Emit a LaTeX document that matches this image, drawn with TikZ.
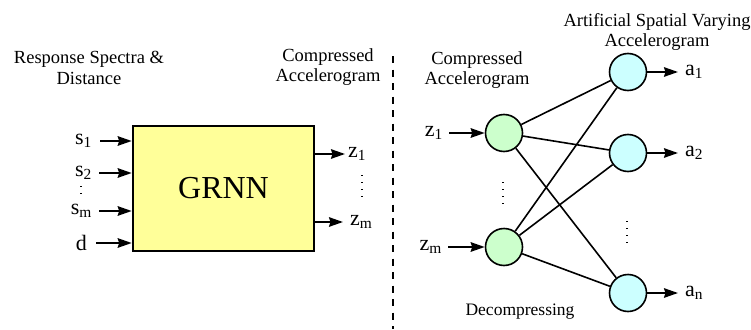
\documentclass[tikz,border=0pt]{standalone}
\usepackage{fontspec}
\setmainfont{Liberation Serif}
\usepackage{tikz}
\usetikzlibrary{arrows.meta}

\definecolor{boxyellow}{RGB}{255,255,153}
\definecolor{hidgreen}{RGB}{204,255,204}
\definecolor{outblue}{RGB}{204,255,255}

\begin{document}
\begin{tikzpicture}[x=1pt,y=-1pt,>={Stealth[length=14pt,width=9.5pt,inset=1.5pt]},
  big node/.style={draw,line width=2.6pt,fill=boxyellow,minimum width=181pt,
    minimum height=125pt,inner sep=0pt,font=\fontsize{32}{36}\selectfont},
  hid node/.style={circle,draw,line width=1.6pt,fill=hidgreen,minimum size=37pt,inner sep=0pt},
  out node/.style={circle,draw,line width=1.6pt,fill=outblue,minimum size=37pt,inner sep=0pt},
  var/.style={font=\fontsize{22}{24}\selectfont,inner sep=1pt},
  title/.style={align=center,font=\fontsize{18.5}{20.5}\selectfont},
  sig/.style={->,line width=2pt},
  dotline/.style={line width=1.1pt,dash pattern=on 1.1pt off 6pt}]

  \useasboundingbox (0,0) rectangle (751,329);

  % compression part
  \node[title] (spec) at (89,68) {Response Spectra \&\\Distance};
  \node[title] (comp) at (328,67) {Compressed\\Accelerogram};
  \node[big node] (grnn) at (223.5,188.5) {GRNN};

  \node[var,anchor=east] (s1) at (93,141) {s\textsubscript{1}};
  \node[var,anchor=east] (s2) at (93,173) {s\textsubscript{2}};
  \node[var,anchor=east] (sm) at (93,211) {s\textsubscript{m}};
  \node[var,anchor=east] (d)  at (88,243) {d};
  \node[var,anchor=west] (z1) at (347,154) {z\textsubscript{1}};
  \node[var,anchor=west] (zm) at (349,222) {z\textsubscript{m}};

  \draw[sig,shorten <=7pt] (s1) -- (s1 -| grnn.west);
  \draw[sig,shorten <=6pt] (s2) -- (s2 -| grnn.west);
  \draw[sig,shorten <=6pt] (sm) -- (sm -| grnn.west);
  \draw[sig,shorten <=8pt] (d) -- (d -| grnn.west);
  \draw[sig,shorten >=2pt] (grnn.east |- z1) -- (z1);
  \draw[sig,shorten >=6pt] (grnn.east |- zm) -- (zm);

  \draw[dotline] (81,186) -- (81,200);
  \draw[dotline] (362,175) -- (362,200);

  % separation
  \coordinate (sep top) at (393,56);
  \coordinate (sep bot) at (393,329);
  \draw[line width=2pt,dash pattern=on 7pt off 6.5pt] (sep top) -- (sep bot);

  % decompression part
  \node[title] (comp2) at (477,70) {Compressed\\Accelerogram};
  \node[title] (asva) at (657,32) {Artificial Spatial Varying\\Accelerogram};
  \node[title,font=\fontsize{17.5}{20}\selectfont] (dec) at (520,312) {Decompressing};

  \node[hid node] (g1) at (504,133) {};
  \node[hid node] (gm) at (504,247) {};
  \node[out node] (b1) at (628,72) {};
  \node[out node] (b2) at (628,153) {};
  \node[out node] (bn) at (628,293) {};

  \foreach \g in {g1,gm}
    \foreach \b in {b1,b2,bn}
      \draw[line width=1.6pt] (\g) -- (\b);

  \node[var,anchor=east] (zin1) at (444,133) {z\textsubscript{1}};
  \node[var,anchor=east] (zinm) at (443,247) {z\textsubscript{m}};
  \node[var,anchor=west] (a1) at (684,72) {a\textsubscript{1}};
  \node[var,anchor=west] (a2) at (684,153) {a\textsubscript{2}};
  \node[var,anchor=west] (an) at (684,293) {a\textsubscript{n}};

  \draw[sig,shorten <=5pt] (zin1) -- (g1);
  \draw[sig,shorten <=5pt] (zinm) -- (gm);
  \draw[sig,shorten >=6pt] (b1) -- (a1);
  \draw[sig,shorten >=6pt] (b2) -- (a2);
  \draw[sig,shorten >=6pt] (bn) -- (an);

  \draw[dotline] (503,182) -- (503,206);
  \draw[dotline] (627,221) -- (627,243);

\end{tikzpicture}
\end{document}
